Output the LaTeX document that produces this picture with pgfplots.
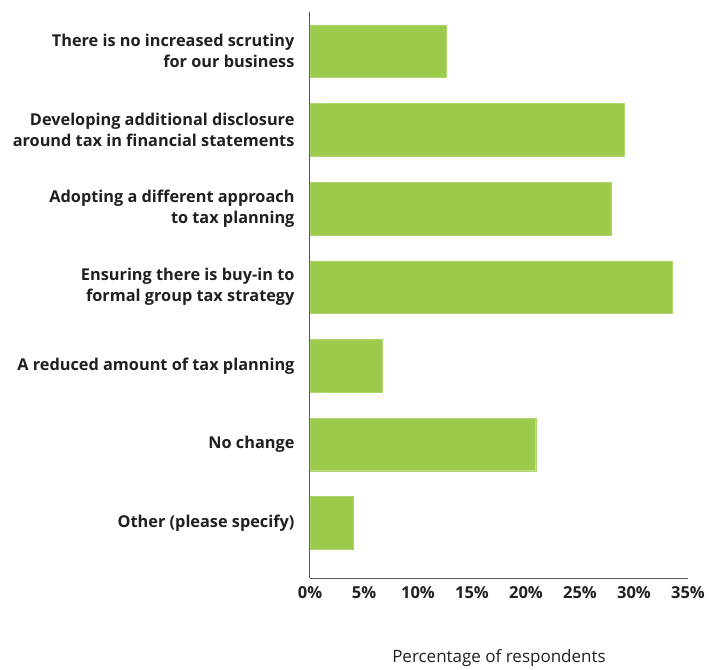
\documentclass[border=0pt]{standalone}
\usepackage{pgfplots}
\pgfplotsset{compat=1.18}
\usepackage{fontspec}
\setmainfont{Open Sans}
\definecolor{bargreen}{HTML}{9CCB4C}
\definecolor{txt}{HTML}{231F20}
\definecolor{axgray}{HTML}{555555}
\begin{document}
\begin{tikzpicture}
\begin{axis}[
  name=ax,
  scale only axis,
  width=378pt, height=566pt,
  xbar, bar width=0.67,
  xmin=0, xmax=35,
  ymin=-0.7, ymax=6.5,
  axis x line=bottom, axis y line=left,
  axis line style={-, draw=axgray, line width=1pt},
  major tick length=0pt,
  xtick={0,5,10,15,20,25,30,35},
  xticklabels={0\%,5\%,10\%,15\%,20\%,25\%,30\%,35\%},
  ytick={0,1,2,3,4,5,6},
  yticklabels={Other (please specify),No change,A reduced amount of tax planning,{Ensuring there is buy-in to\\formal group tax strategy},{Adopting a different approach\\to tax planning},{Developing additional disclosure\\around tax in financial statements},{There is no increased scrutiny\\for our business}},
  yticklabel style={align=right, font=\fontsize{16.3}{21}\selectfont\bfseries, text=txt, xshift=-12pt},
  xticklabel style={font=\fontsize{16.5}{19}\selectfont\bfseries, text=txt, yshift=-5pt},
  xlabel={Percentage of respondents},
  xlabel style={font=\fontsize{17}{20}\selectfont, text=txt, yshift=-44pt},
  /pgf/number format/assume math mode=true,
]
\addplot[fill=bargreen, draw=bargreen!80!white] coordinates {
  (4.0,0) (20.9,1) (6.7,2) (33.5,3) (27.9,4) (29.1,5) (12.6,6)
};
\end{axis}
\path (ax.south west) ++(-310pt,-88pt) rectangle ++(709pt,666pt);
\end{tikzpicture}
\end{document}
